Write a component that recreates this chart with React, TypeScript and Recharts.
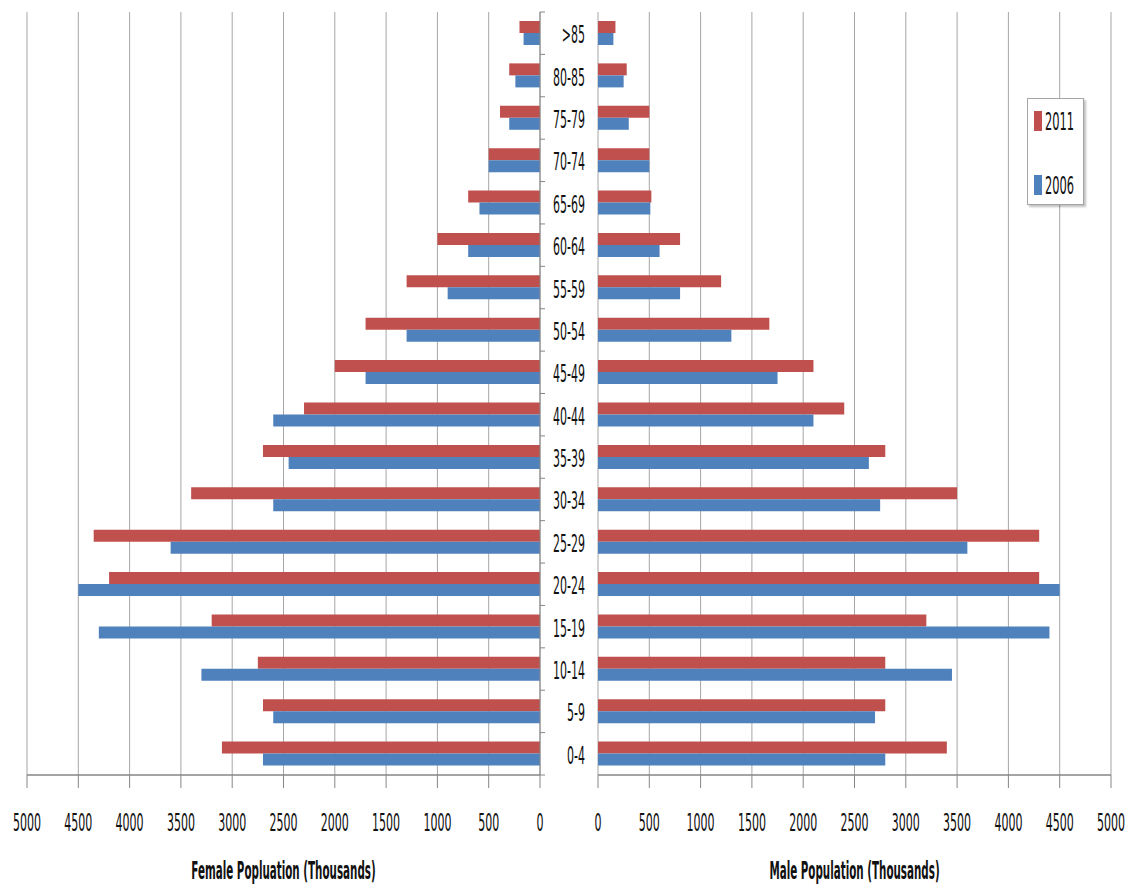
import { BarChart, Bar, XAxis, YAxis, CartesianGrid, Legend, Label } from 'recharts'

// age groups, youngest first
const ages = ['0-4', '5-9', '10-14', '15-19', '20-24', '25-29', '30-34', '35-39', '40-44', '45-49', '50-54', '55-59', '60-64', '65-69', '70-74', '75-79', '80-85', '>85']

// thousands
const female2011 = [3100, 2700, 2750, 3200, 4200, 4350, 3400, 2700, 2300, 2000, 1700, 1300, 1000, 700, 500, 390, 300, 200]
const female2006 = [2700, 2600, 3300, 4300, 4500, 3600, 2600, 2450, 2600, 1700, 1300, 900, 700, 590, 500, 300, 240, 160]
const male2011 = [3400, 2800, 2800, 3200, 4300, 4300, 3500, 2800, 2400, 2100, 1670, 1200, 800, 520, 500, 500, 280, 170]
const male2006 = [2800, 2700, 3450, 4400, 4500, 3600, 2750, 2640, 2100, 1750, 1300, 800, 600, 510, 500, 300, 250, 150]

const xTicks = [0, 500, 1000, 1500, 2000, 2500, 3000, 3500, 4000, 4500, 5000]

const RED = '#C0504D'
const BLUE = '#4F81BD'
const GRID = '#a6a6a6'
const AXIS = '#868686'
const INK = '#111'
const FONT = '"DejaVu Sans Condensed", "DejaVu Sans", sans-serif'
const SQUEEZE = 0.51

const TOP = 12
const PLOT_H = 763
const BAND = PLOT_H / ages.length

// top row first, like the picture
const rows = ages
  .map((age, i) => ({
    age,
    f2011: female2011[i],
    f2006: female2006[i],
    m2011: male2011[i],
    m2006: male2006[i],
  }))
  .reverse()

function AgeTick(props: any) {
  const { x, y, payload, index } = props
  const half = BAND / 2
  return (
    <g>
      <line x1={x} x2={x + 5} y1={y - half} y2={y - half} stroke={AXIS} />
      {index === ages.length - 1 && <line x1={x} x2={x + 5} y1={y + half} y2={y + half} stroke={AXIS} />}
      <g transform={`translate(${x + 45},${y + 10})`}>
        <text transform={`scale(${SQUEEZE},1)`} textAnchor="end" fontSize={24} fontFamily={FONT} fill={INK}>
          {payload.value}
        </text>
      </g>
    </g>
  )
}

function NumTick(props: any) {
  const { x, y, payload } = props
  return (
    <g transform={`translate(${x},${y + 17})`}>
      <text transform={`scale(${SQUEEZE},1)`} textAnchor="middle" fontSize={24} fontFamily={FONT} fill={INK}>
        {payload.value}
      </text>
    </g>
  )
}

function axisTitle(text: string) {
  return (props: any) => {
    const vb = props.viewBox
    return (
      <g transform={`translate(${vb.x + vb.width / 2},${vb.y + vb.height - 9})`}>
        <text transform="scale(0.46,1)" textAnchor="middle" fontSize={25} fontWeight="bold" fontFamily={FONT} fill={INK}>
          {text}
        </text>
      </g>
    )
  }
}

function LegendBox(props: any) {
  const items = [...(props.payload || [])].sort((a: any, b: any) => String(b.value).localeCompare(String(a.value)))
  return (
    <div
      style={{
        width: 57,
        height: 107,
        border: '1px solid #a6a6a6',
        background: '#fff',
        boxShadow: '2px 2px 2px rgba(0,0,0,0.25)',
        boxSizing: 'border-box',
      }}
    >
      <svg width={55} height={105} style={{ display: 'block' }}>
        {items.map((p: any, i: number) => (
          <g key={p.value} transform={`translate(0,${i * 64})`}>
            <rect x={6} y={12} width={8} height={20} fill={p.color} />
            <g transform="translate(17,31)">
              <text transform={`scale(${SQUEEZE},1)`} fontSize={25} fontFamily={FONT} fill={INK}>
                {p.value}
              </text>
            </g>
          </g>
        ))}
      </svg>
    </div>
  )
}

export default function App() {
  return (
    <div style={{ position: 'absolute', left: 0, top: 0, width: 1128, height: 888, background: '#fff' }}>
      <div style={{ position: 'absolute', left: 0, top: 0 }}>
        <BarChart
          width={600}
          height={888}
          layout="vertical"
          data={rows}
          margin={{ top: TOP, right: 0, bottom: 0, left: 27 }}
          barGap={0}
          barSize={12}
        >
          <CartesianGrid horizontal={false} stroke={GRID} />
          <XAxis
            type="number"
            domain={[0, 5000]}
            ticks={xTicks}
            interval={0}
            reversed
            height={113}
            tickSize={13}
            tickMargin={26}
            axisLine={{ stroke: AXIS, strokeWidth: 1.5 }}
            tickLine={{ stroke: AXIS }}
            tick={<NumTick />}
          >
            <Label content={axisTitle('Female Popluation (Thousands)')} />
          </XAxis>
          <YAxis
            type="category"
            dataKey="age"
            orientation="right"
            width={60}
            tickSize={0}
            tickMargin={0}
            interval={0}
            axisLine={{ stroke: AXIS }}
            tickLine={false}
            tick={<AgeTick />}
          />
          <Bar dataKey="f2011" name="2011" fill={RED} isAnimationActive={false} />
          <Bar dataKey="f2006" name="2006" fill={BLUE} isAnimationActive={false} />
        </BarChart>
      </div>

      <div style={{ position: 'absolute', left: 540, top: 0 }}>
        <BarChart
          width={588}
          height={888}
          layout="vertical"
          data={rows}
          margin={{ top: TOP, right: 17, bottom: 0, left: 0 }}
          barGap={0}
          barSize={12}
        >
          <CartesianGrid horizontal={false} stroke={GRID} />
          <XAxis
            type="number"
            domain={[0, 5000]}
            ticks={xTicks}
            interval={0}
            height={113}
            tickSize={13}
            tickMargin={26}
            axisLine={{ stroke: AXIS, strokeWidth: 1.5 }}
            tickLine={{ stroke: AXIS }}
            tick={<NumTick />}
          >
            <Label content={axisTitle('Male Population (Thousands)')} />
          </XAxis>
          <YAxis type="category" dataKey="age" width={58} tick={false} axisLine={false} tickLine={false} />
          <Legend
            layout="vertical"
            align="center"
            verticalAlign="middle"
            content={<LegendBox />}
            wrapperStyle={{ position: 'absolute', left: 487, top: 98, width: 57, height: 107 }}
          />
          <Bar dataKey="m2011" name="2011" fill={RED} isAnimationActive={false} />
          <Bar dataKey="m2006" name="2006" fill={BLUE} isAnimationActive={false} />
        </BarChart>
      </div>
    </div>
  )
}
